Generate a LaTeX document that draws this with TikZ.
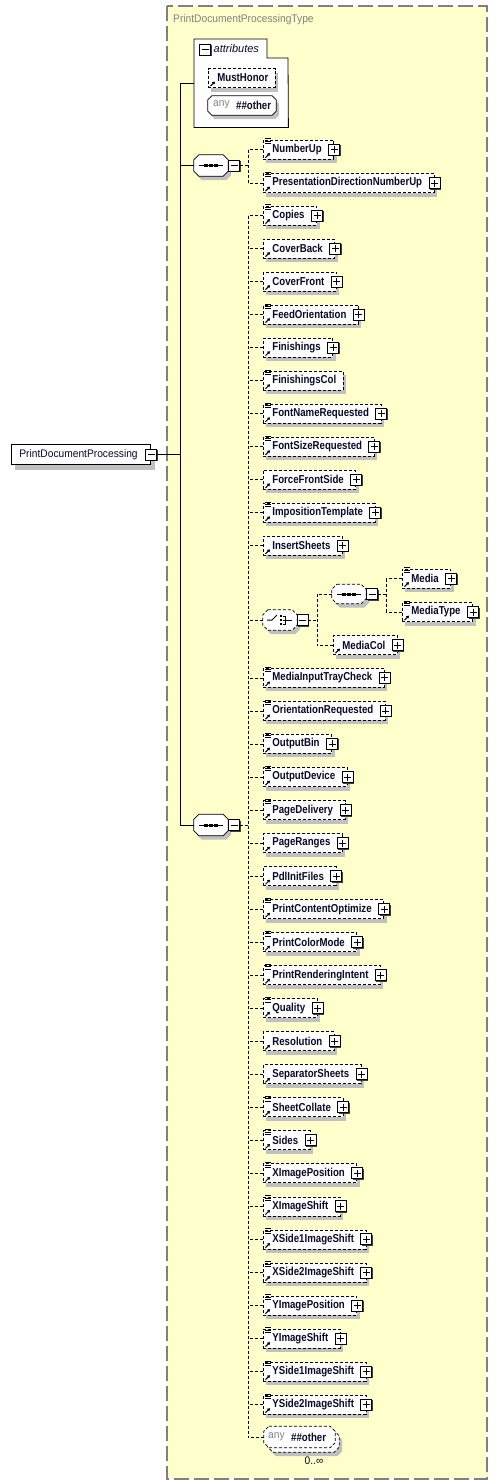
\documentclass[tikz,border=0pt]{standalone}
\usepackage{fontspec}
\setmainfont{Liberation Sans}
\newfontfamily\elf[FakeStretch=0.84]{Liberation Sans}
\newfontfamily\rgf[FakeStretch=0.93]{Liberation Sans}
\usetikzlibrary{shadows,calc,arrows.meta}
\definecolor{bgyellow}{RGB}{255,255,204}
\definecolor{shadowgray}{RGB}{192,192,192}
\definecolor{bordergray}{RGB}{128,128,128}
\definecolor{txt}{RGB}{10,10,40}
\definecolor{anygray}{RGB}{130,130,130}
\tikzset{
  bgbox/.style={draw=bordergray, line width=1.3pt, dash pattern=on 15pt off 5pt, fill=bgyellow},
  eshadow/.style={drop shadow={shadow xshift=3pt, shadow yshift=-4pt, fill=shadowgray, opacity=1}},
  elfont/.style={font=\elf\bfseries\fontsize{11.5}{13}\selectfont},
  elbox/.style={rectangle, draw=black, line width=0.8pt, dash pattern=on 3pt off 2pt, fill=white,
    inner sep=0pt, minimum height=19pt, elfont, text=txt, eshadow},
  rootbox/.style={rectangle, draw=black, line width=0.8pt, fill=white, inner sep=0pt, minimum height=20pt,
    font=\rgf\fontsize{11}{13}\selectfont, text=txt,
    drop shadow={shadow xshift=4pt, shadow yshift=-5pt, fill=shadowgray, opacity=1}},
  pmbox/.style={rectangle, draw=black, line width=0.9pt, fill=white, inner sep=0pt, minimum size=11pt,
    drop shadow={shadow xshift=1pt, shadow yshift=-1pt, fill=black!75, opacity=1}},
  octnode/.style={rectangle, inner sep=0pt, minimum width=34pt, minimum height=21pt},
  octline/.style={draw=black, line width=0.8pt, fill=white, eshadow},
  octdash/.style={octline, dash pattern=on 3pt off 2pt},
  conn/.style={draw=black, line width=0.8pt, dash pattern=on 3pt off 2pt},
  sconn/.style={draw=black, line width=0.9pt},
  icon/.style={draw=black, line width=0.8pt},
}
% octagon path around a node
\newcommand{\octpath}[3]{% #1 node, #2 style, #3 chamfer
  \path[#2] ([shift={(#3,0)}]#1.north west) -- ([shift={(-#3,0)}]#1.north east)
    -- ([shift={(0,#3)}]#1.north east) -- ([shift={(0,-#3)}]#1.south east)
    -- ([shift={(-#3,0)}]#1.south east) -- ([shift={(#3,0)}]#1.south west)
    -- ([shift={(0,-#3)}]#1.south west) -- ([shift={(0,#3)}]#1.north west) -- cycle;}
\newcommand{\plusbox}[1]{%
  \node[pmbox] (#1-p) at (#1.east) {};
  \draw[icon, line width=0.9pt] ([shift={(-3.5,0)}]#1-p.center) -- ([shift={(3.5,0)}]#1-p.center)
     ([shift={(0,-3.5)}]#1-p.center) -- ([shift={(0,3.5)}]#1-p.center);}
\newcommand{\minusbox}[2]{% #1 name, #2 position
  \node[pmbox] (#1) at (#2) {};
  \draw[icon, line width=0.9pt] ([shift={(-3.5,0)}]#1.center) -- ([shift={(3.5,0)}]#1.center);}
\newcommand{\listicon}[1]{%
  \draw[icon, line width=0.7pt] ([shift={(2,-0.8)}]#1.north west) -- ++(5.5,0)
     ([shift={(2,1.4)}]#1.north west) -- ++(5.5,0)
     ([shift={(2,3.6)}]#1.north west) -- ++(5.5,0);}
\newcommand{\refarrow}[1]{%
  \draw[icon, line width=1pt, -{Triangle[length=2.6pt,width=3.2pt]}]
     ([shift={(2.5,-1.8)}]#1.south west) -- ([shift={(7,-6.3)}]#1.south west);}
\newcommand{\elemat}[6]{% #1 x, #2 y, #3 name, #4 label, #5 list icon, #6 plus
  \node[elbox, anchor=west] (#3) at (#1,#2) {\kern9pt#4\kern\ifnum#6=1 12pt\else 7pt\fi\relax};
  \ifnum#5=1 \listicon{#3}\fi
  \refarrow{#3}
  \ifnum#6=1 \plusbox{#3}\fi}
\newcommand{\elem}[5]{% #1 row, #2 name, #3 label, #4 list, #5 plus
  \elemat{263}{215.5+33.03*#1}{#2}{#3}{#4}{#5}
  \draw[conn] (#2.west) -- (#2.west -| bustwo);}
\newcommand{\seqicon}[1]{%
  \draw[icon, line width=1pt] ([shift={(-12,0)}]#1.center) -- ([shift={(12,0)}]#1.center);
  \foreach \dx in {-5,0,5} {\fill[black] ([shift={(\dx-1.6,-1.5)}]#1.center) rectangle ([shift={(\dx+1.6,1.5)}]#1.center);}}
\begin{document}
\begin{tikzpicture}[x=1pt,y=-1pt]
\useasboundingbox (0,0) rectangle (498,1484);
% type background
\draw[bgbox] (167,6) rectangle (487,1479);
\node[anchor=west, text=bordergray, font=\rgf\fontsize{11}{13}\selectfont, inner sep=0pt] (typetitle) at (173,20) {PrintDocumentProcessingType};

% root element
\node[rootbox, anchor=west] (root) at (11,454.5) {\kern8pt PrintDocumentProcessing\kern13pt\relax};
\minusbox{root-m}{root.east}

% main bus
\coordinate (mtop) at (180,83);
\coordinate (mbot) at (180,825);
\draw[sconn] (mtop) -- (mbot);
\draw[sconn] (root-m.east) -- (root-m.east -| mtop);

% attributes
\node[rectangle, inner sep=0pt, minimum width=94pt, minimum height=88pt, anchor=north west] (attr) at (194,39) {};
\draw[sconn, fill=white, line width=0.8pt] (attr.north west) -- (267,39) -- (267,58) -- (288,58) -- (attr.south east) -- (attr.south west) -- cycle;
\draw[sconn] (attr.west) -- (attr.west -| mtop);
\minusbox{attr-m}{205,49.5}
\node[anchor=west, inner sep=0pt, font=\fontsize{11}{13}\selectfont\itshape, text=txt] (attr-l) at (213.5,49) {attributes};
\elemat{208}{78}{MustHonor}{MustHonor}{0}{0}
\node[octnode, minimum width=68pt, minimum height=19pt] (attrany) at (242,105.5) {};
\octpath{attrany}{octline}{4}
\node[anchor=west, inner sep=0pt, font=\rgf\fontsize{11}{13}\selectfont, text=anygray] (attrany-a) at (213,105) {any};
\node[anchor=west, inner sep=0pt, elfont, text=txt] (attrany-o) at (236,105) {\#\#other};

% sequence 1
\node[octnode] (seq1) at (211,165.5) {};
\octpath{seq1}{octline}{5}
\seqicon{seq1}
\minusbox{seq1-m}{234,165.5}
\draw[sconn] (seq1.west) -- (seq1.west -| mtop);
\coordinate (busone) at (248,149.5);
\coordinate (busoneb) at (248,183);
\draw[conn] (seq1-m.east) -- (seq1-m.east -| busone);
\draw[conn] (busone) -- (busoneb);
\elemat{263}{149.5}{NumberUp}{NumberUp}{1}{1}
\elemat{263}{183}{PresentationDirectionNumberUp}{PresentationDirectionNumberUp}{1}{1}
\draw[conn] (NumberUp.west) -- (NumberUp.west -| busone);
\draw[conn] (PresentationDirectionNumberUp.west) -- (PresentationDirectionNumberUp.west -| busone);

% sequence 2
\node[octnode] (seq2) at (211,825) {};
\octpath{seq2}{octline}{5}
\seqicon{seq2}
\minusbox{seq2-m}{234,825}
\draw[sconn] (seq2.west) -- (seq2.west -| mtop);
\coordinate (bustwo) at (248,215.5);
\coordinate (bustwob) at (248,1437);
\draw[conn] (bustwo) -- (bustwob);
\draw[conn] (seq2-m.east) -- (seq2-m.east -| bustwo);

\elem{0}{Copies}{Copies}{1}{1}
\elem{1}{CoverBack}{CoverBack}{0}{1}
\elem{2}{CoverFront}{CoverFront}{0}{1}
\elem{3}{FeedOrientation}{FeedOrientation}{1}{1}
\elem{4}{Finishings}{Finishings}{0}{1}
\elem{5}{FinishingsCol}{FinishingsCol}{1}{0}
\elem{6}{FontNameRequested}{FontNameRequested}{1}{1}
\elem{7}{FontSizeRequested}{FontSizeRequested}{1}{1}
\elem{8}{ForceFrontSide}{ForceFrontSide}{0}{1}
\elem{9}{ImpositionTemplate}{ImpositionTemplate}{1}{1}
\elem{10}{InsertSheets}{InsertSheets}{0}{1}
\elem{14}{MediaInputTrayCheck}{MediaInputTrayCheck}{1}{1}
\elem{15}{OrientationRequested}{OrientationRequested}{1}{1}
\elem{16}{OutputBin}{OutputBin}{1}{1}
\elem{17}{OutputDevice}{OutputDevice}{1}{1}
\elem{18}{PageDelivery}{PageDelivery}{1}{1}
\elem{19}{PageRanges}{PageRanges}{0}{1}
\elem{20}{PdlInitFiles}{PdlInitFiles}{0}{1}
\elem{21}{PrintContentOptimize}{PrintContentOptimize}{1}{1}
\elem{22}{PrintColorMode}{PrintColorMode}{1}{1}
\elem{23}{PrintRenderingIntent}{PrintRenderingIntent}{1}{1}
\elem{24}{Quality}{Quality}{1}{1}
\elem{25}{Resolution}{Resolution}{0}{1}
\elem{26}{SeparatorSheets}{SeparatorSheets}{0}{1}
\elem{27}{SheetCollate}{SheetCollate}{1}{1}
\elem{28}{Sides}{Sides}{1}{1}
\elem{29}{XImagePosition}{XImagePosition}{1}{1}
\elem{30}{XImageShift}{XImageShift}{1}{1}
\elem{31}{XSideOneImageShift}{XSide1ImageShift}{1}{1}
\elem{32}{XSideTwoImageShift}{XSide2ImageShift}{1}{1}
\elem{33}{YImagePosition}{YImagePosition}{1}{1}
\elem{34}{YImageShift}{YImageShift}{1}{1}
\elem{35}{YSideOneImageShift}{YSide1ImageShift}{1}{1}
\elem{36}{YSideTwoImageShift}{YSide2ImageShift}{1}{1}

% choice
\node[octnode, minimum height=20pt] (choice) at (280,620) {};
\octpath{choice}{octdash}{5}
\draw[icon, line width=1pt] ([shift={(-13,0)}]choice.center) -- ([shift={(-8,0)}]choice.center) -- ([shift={(-3,-5)}]choice.center);
\foreach \dy in {-4,0,4} {\fill[black] ([shift={(-0.5,\dy-1.3)}]choice.center) rectangle ([shift={(2.2,\dy+1.3)}]choice.center);}
\draw[icon, line width=0.9pt] ([shift={(2.5,-4)}]choice.center) -- ([shift={(5,-4)}]choice.center) -- ([shift={(5,4)}]choice.center) -- ([shift={(2.5,4)}]choice.center)
   ([shift={(2.5,0)}]choice.center) -- ([shift={(12,0)}]choice.center);
\minusbox{choice-m}{302.5,620}
\draw[conn] (choice.west) -- (choice.west -| bustwo);
\coordinate (busthree) at (317,594);
\coordinate (busthreeb) at (317,645);
\draw[conn] (busthree) -- (busthreeb);
\draw[conn] (choice-m.east) -- (choice-m.east -| busthree);

% inner sequence
\node[octnode, minimum height=19pt] (seq3) at (349,594) {};
\octpath{seq3}{octdash}{5}
\seqicon{seq3}
\minusbox{seq3-m}{372,594}
\draw[conn] (seq3.west) -- (seq3.west -| busthree);
\coordinate (busfour) at (386,578.5);
\coordinate (busfourb) at (386,612);
\draw[conn] (busfour) -- (busfourb);
\draw[conn] (seq3-m.east) -- (seq3-m.east -| busfour);
\elemat{402}{578.5}{Media}{Media}{1}{1}
\elemat{402}{612}{MediaType}{MediaType}{1}{1}
\draw[conn] (Media.west) -- (Media.west -| busfour);
\draw[conn] (MediaType.west) -- (MediaType.west -| busfour);
\elemat{333}{645}{MediaCol}{MediaCol}{0}{1}
\draw[conn] (MediaCol.west) -- (MediaCol.west -| busthree);

% final any
\node[octnode, minimum width=71pt, minimum height=21pt] (anyback) at (303.5,1441.5) {};
\octpath{anyback}{octdash}{5}
\node[octnode, minimum width=71pt, minimum height=21pt] (anyel) at (299.5,1437) {};
\octpath{anyel}{draw=black, line width=0.8pt, fill=white, dash pattern=on 3pt off 2pt}{5}
\node[anchor=west, inner sep=0pt, font=\rgf\fontsize{11}{13}\selectfont, text=anygray] (anyel-a) at (268,1437) {any};
\node[anchor=west, inner sep=0pt, elfont, text=txt] (anyel-o) at (291,1437) {\#\#other};
\draw[conn] (anyel.west) -- (anyel.west -| bustwo);
\node[inner sep=0pt, font=\rgf\fontsize{11}{13}\selectfont, text=txt] (occ) at (314,1461) {0..∞};
\end{tikzpicture}
\end{document}
